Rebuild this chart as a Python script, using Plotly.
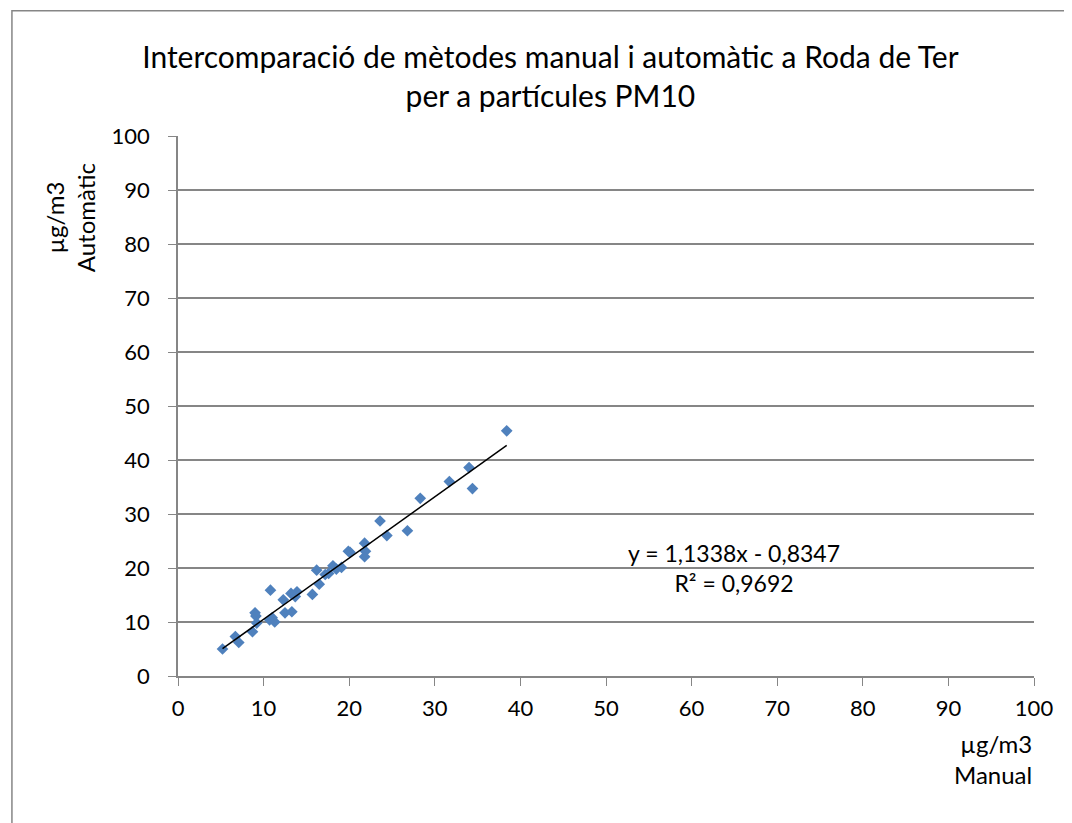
import plotly.graph_objects as go

# manual (x) vs automatic (y) PM10, ug/m3
manual = [5.2, 6.7, 7.1, 8.7, 9.0, 9.1, 9.2, 10.8, 10.7, 11.3, 11.0, 12.3, 12.5,
          13.3, 13.2, 13.9, 13.7, 15.7, 16.2, 16.5, 17.2, 17.6, 18.1, 18.5, 19.1,
          19.9, 20.1, 21.8, 21.9, 21.8, 23.6, 24.4, 26.8, 28.3, 31.7, 34.0, 34.4, 38.4]
automatic = [5.0, 7.3, 6.2, 8.2, 11.7, 11.1, 9.8, 15.9, 10.4, 10.0, 10.8, 14.1, 11.7,
             11.9, 15.3, 15.6, 14.7, 15.1, 19.6, 17.0, 18.8, 19.0, 20.4, 19.8, 20.1,
             23.1, 22.9, 24.6, 23.1, 22.1, 28.7, 26.0, 26.9, 32.9, 36.0, 38.6, 34.7, 45.4]
slope, intercept = 1.1338, -0.8347
r2 = 0.9692
ticks = list(range(0, 101, 10))

font = "Lato, 'Open Sans', sans-serif"


def comma(v):
    return str(v).replace(".", ",")


trend_x = [min(manual), max(manual)]
trend_y = [slope * v + intercept for v in trend_x]

fig = go.Figure()
fig.add_trace(go.Scatter(
    x=manual, y=automatic, mode="markers",
    marker=dict(symbol="diamond", size=9, color="#4F81BD"),
    showlegend=False
))
fig.add_trace(go.Scatter(
    x=trend_x, y=trend_y, mode="lines",
    line=dict(color="black", width=1.5),
    showlegend=False
))

fig.update_layout(
    width=1072, height=823,
    margin=dict(l=170, r=46, t=128, b=155),
    paper_bgcolor="white", plot_bgcolor="white",
    font=dict(family=font, size=21, color="black"),
    title=dict(
        text="Intercomparació de mètodes manual i automàtic a Roda de Ter<br>per a partícules PM10",
        x=0.506, xanchor="center", y=0.927, yanchor="middle",
        font=dict(size=30)
    ),
    xaxis=dict(
        range=[0, 100], tickvals=ticks, showgrid=False, zeroline=False,
        showline=True, linecolor="#868686", linewidth=1.5,
        ticks="outside", tickcolor="#868686", ticklen=8,
        tickfont=dict(size=22), ticklabelstandoff=4,
    ),
    yaxis=dict(
        range=[0, 100], tickvals=ticks, showgrid=True, gridcolor="#868686",
        gridwidth=1.5, zeroline=False,
        showline=True, linecolor="#868686", linewidth=1.5,
        ticks="outside", tickcolor="#868686", ticklen=8,
        tickfont=dict(size=22), ticklabelstandoff=14,
    ),
    shapes=[dict(
        type="rect", xref="paper", yref="paper",
        x0=-0.194, x1=1.0386, y0=-0.3, y1=1.232,
        line=dict(color="#868686", width=1.5)
    )],
    annotations=[
        dict(text="µg/m3<br>Automàtic", xref="paper", yref="paper",
             x=-0.126, y=0.848, textangle=-90, showarrow=False,
             xanchor="center", yanchor="middle", font=dict(size=24)),
        dict(text="µg/m3<br>Manual", xref="paper", yref="paper",
             x=1.0, y=-0.095, showarrow=False, align="right",
             xanchor="right", yanchor="top", font=dict(size=24)),
        dict(text=f"y = {comma(slope)}x - {comma(-intercept)}<br>R² = {comma(r2)}",
             x=65, y=20, showarrow=False, align="center",
             xanchor="center", yanchor="middle", font=dict(size=23)),
    ],
)

fig.write_html("out.html")
